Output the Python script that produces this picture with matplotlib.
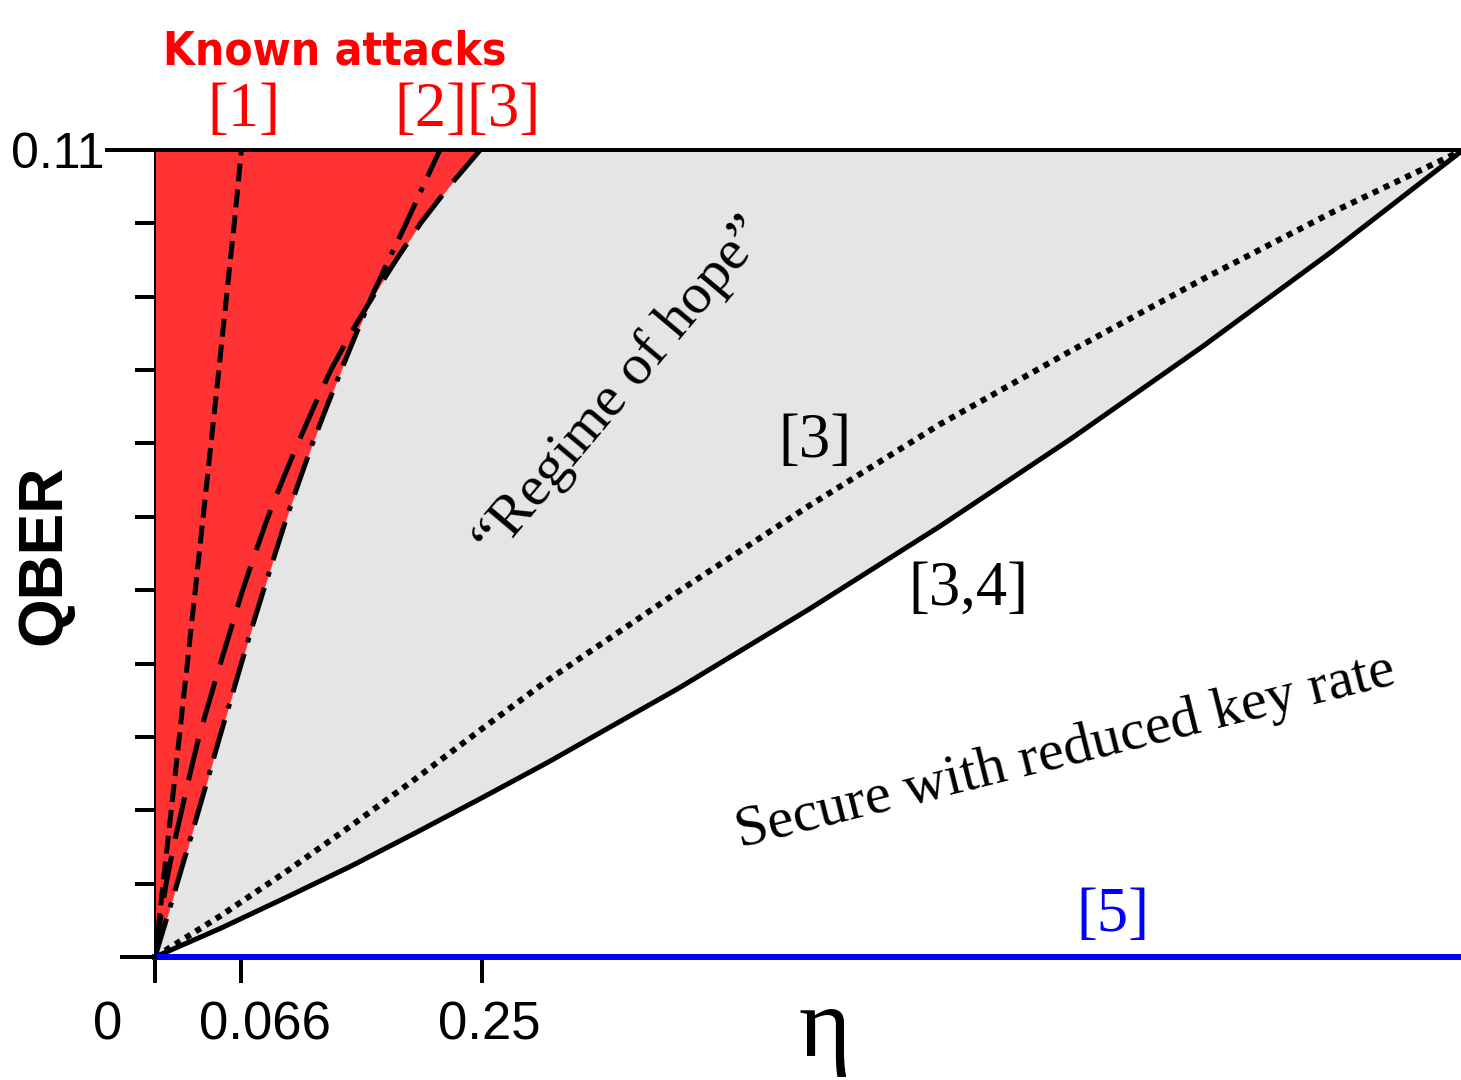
import numpy as np
import matplotlib
matplotlib.use("Agg")
import matplotlib.pyplot as plt
from matplotlib.transforms import ScaledTranslation

# QBER levels where the attack curves were read (eta as function of QBER)
qber_levels = [0.0, 0.005, 0.01, 0.015, 0.02, 0.025, 0.03, 0.035, 0.04, 0.045, 0.05, 0.055,
               0.06, 0.065, 0.07, 0.075, 0.08, 0.085, 0.09, 0.095, 0.10, 0.105, 0.11]
eta_attack1 = [0.0, 0.0031, 0.0062, 0.0093, 0.0124, 0.0155, 0.0186, 0.0216, 0.0247, 0.0277,
               0.0308, 0.0338, 0.0368, 0.0398, 0.0428, 0.0458, 0.0488, 0.0517, 0.0547,
               0.0576, 0.0606, 0.0634, 0.066]
eta_attack2 = [0.0, 0.0085, 0.0169, 0.0252, 0.0334, 0.0415, 0.0495, 0.0578, 0.066, 0.0743,
               0.083, 0.0919, 0.1008, 0.1105, 0.1204, 0.1313, 0.1424, 0.1539, 0.1656,
               0.1786, 0.192, 0.2048, 0.2178]
eta_attack3 = [0.0, 0.004, 0.0085, 0.014, 0.0204, 0.0268, 0.0336, 0.0417, 0.050, 0.0585,
               0.067, 0.0765, 0.0864, 0.0975, 0.1092, 0.1215, 0.1344, 0.1496, 0.1665,
               0.1843, 0.203, 0.2247, 0.2486]

# eta levels where the security bounds were read (QBER as function of eta)
eta_levels = [0.0, 0.05, 0.1, 0.15, 0.2, 0.25, 0.3, 0.4, 0.5, 0.6, 0.7, 0.8, 0.9, 1.0]
qber_bound3 = [0.0, 0.0056, 0.0116, 0.0179, 0.0244, 0.0311, 0.0377, 0.0498, 0.0615, 0.0726,
               0.0826, 0.0923, 0.1015, 0.11]
qber_bound34 = [0.0, 0.0039, 0.0081, 0.0124, 0.0170, 0.0217, 0.0265, 0.0366, 0.0474, 0.0587,
                0.0706, 0.0831, 0.0962, 0.11]

qber_max = 0.11
x_ticks = [0, 0.066, 0.25]
x_ticklabels = ["0", "0.066", "0.25"]

W, H = 1461, 1080
fig = plt.figure(figsize=(W / 100, H / 100), dpi=100)
ax = fig.add_axes([155 / W, 123 / H, 1308 / W, 807 / H])
ax.set_xlim(0, 1)
ax.set_ylim(0, qber_max)

px = 72 / 100  # one pixel in points

# regions
ax.fill_between(eta_levels, qber_bound34, qber_max, color="#e5e5e5", lw=0, zorder=1)
red_edge = np.maximum(eta_attack2, eta_attack3)
ax.fill_betweenx(qber_levels, 0, red_edge, color="#ff3333", lw=0, zorder=2)

# curves
ax.plot(eta_attack1, qber_levels, color="black", lw=5 * px, dashes=(3.6, 1.6), zorder=4)
ax.plot(eta_attack2, qber_levels, color="black", lw=5 * px, dashes=(8, 2.4, 1, 2.4), zorder=4)
ax.plot(eta_attack3, qber_levels, color="black", lw=5 * px, dashes=(8.5, 3.5), zorder=4)
ax.plot(eta_levels, qber_bound3, color="black", lw=6 * px, dashes=(1, 1), zorder=4)
ax.plot(eta_levels, qber_bound34, color="black", lw=5 * px, zorder=4)
ax.plot([0, 1], [0, 0], color="#0000ff", lw=6 * px, clip_on=False, zorder=5)

# top line and long end ticks
ax.plot([-48 / 1308, 1], [qber_max, qber_max], color="black", lw=4 * px,
        transform=ax.get_yaxis_transform(), clip_on=False, zorder=6)
ax.plot([-33 / 1308, 0], [0, 0], color="black", lw=4 * px,
        transform=ax.get_yaxis_transform(), clip_on=False, zorder=6)

for s in ["top", "right", "bottom"]:
    ax.spines[s].set_visible(False)
ax.spines["left"].set_linewidth(2 * px)
ax.spines["left"].set_zorder(6)

yt = np.round(np.arange(0, 0.1101, 0.01), 3)
ax.set_yticks(yt)
ax.set_yticklabels([""] * (len(yt) - 1) + ["0.11"])
ax.tick_params(axis="y", length=20 * px, width=4 * px, pad=30 * px,
               labelsize=36, direction="out")
ax.set_xticks(x_ticks)
ax.set_xticklabels(x_ticklabels)
ax.tick_params(axis="x", length=26 * px, width=4 * px, pad=18 * px,
               labelsize=38, direction="out")
for lab in ax.get_yticklabels() + ax.get_xticklabels():
    lab.set_fontfamily("Liberation Sans")
shifts = [-47, 24, 7]
for lab, dx in zip(ax.get_xticklabels(), shifts):
    lab.set_transform(lab.get_transform() + ScaledTranslation(dx / 100, 0, fig.dpi_scale_trans))

serif = "Liberation Serif"

def ftext(x, y, s, **kw):
    fig.text(x / W, 1 - y / H, s, ha="center", va="center", **kw)

ftext(335, 52, "Known attacks", color="red", fontsize=33, fontweight="bold",
      family="DejaVu Sans", fontstretch="condensed")
ftext(244, 111, "[1]", color="red", fontsize=45, family=serif)
ftext(467, 111, "[2][3]", color="red", fontsize=45, family=serif)
ftext(815, 442, "[3]", color="black", fontsize=45, family=serif)
ftext(968, 590, "[3,4]", color="black", fontsize=45, family=serif)
ftext(1113, 916, "[5]", color="blue", fontsize=45, family=serif)
ftext(44, 555, "QBER", fontsize=45, fontweight="bold", rotation=90,
      family="Liberation Sans")
fig.text(825 / W, 1 - 1056 / H, "\u03b7", ha="center", va="baseline",
         fontsize=72, family=serif)
ftext(622, 388, "\u201cRegime of hope\u201d", fontsize=42, rotation=50,
      rotation_mode="anchor", family=serif)
ftext(1065, 752, "Secure with reduced key rate", fontsize=42, rotation=14,
      rotation_mode="anchor", family=serif)

fig.savefig("out.png", dpi=100)
